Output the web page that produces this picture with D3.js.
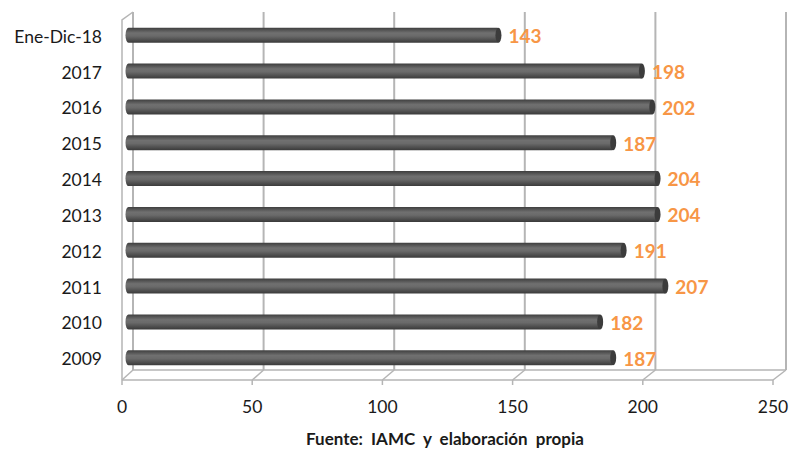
<!DOCTYPE html>
<html>
<head>
<meta charset="utf-8">
<script src="https://cdn.jsdelivr.net/npm/d3@7"></script>
<style>
  body { margin: 0; background: #fff; }
  svg text { font-family: Lato, "Open Sans", sans-serif; }
</style>
</head>
<body>
<div class="chart"></div>
<script>
const categories = ["Ene-Dic-18", "2017", "2016", "2015", "2014", "2013", "2012", "2011", "2010", "2009"]
const values = [143, 198, 202, 187, 204, 204, 191, 207, 182, 187]
const ticks = [0, 50, 100, 150, 200, 250]
const source = "Fuente: IAMC y elaboración propia"

let width = 792
let height = 450

// front plane (floor edge) and back wall, a bit shifted like excel 3d
let xFront = d3.scaleLinear().domain([0, 250]).range([122, 773])
let xBack = d3.scaleLinear().domain([0, 250]).range([133, 786])
let xBar = d3.scaleLinear().domain([0, 250]).range([127.5, 779.5])

let yFloorFront = 380
let yFloorBack = 370
let yTop = 12

let y = d3.scaleBand()
  .domain(categories)
  .range([17, 376])
  .paddingInner(0.58)
  .paddingOuter(0.3)

let svg = d3.select(".chart")
  .append("svg")
  .attr("width", width)
  .attr("height", height)

let grid = "#b5b5b5"

let defs = svg.append("defs")
let grad = defs.append("linearGradient")
  .attr("id", "cyl")
  .attr("x1", 0).attr("y1", 0).attr("x2", 0).attr("y2", 1)
grad.append("stop").attr("offset", "0%").attr("stop-color", "#3e3e3e")
grad.append("stop").attr("offset", "35%").attr("stop-color", "#707070")
grad.append("stop").attr("offset", "55%").attr("stop-color", "#6a6a6a")
grad.append("stop").attr("offset", "100%").attr("stop-color", "#3a3a3a")

// back wall gridlines
svg.selectAll(".gridBack")
  .data(ticks)
  .enter()
  .append("line")
  .attr("class", "gridBack")
  .attr("x1", d => xBack(d))
  .attr("x2", d => xBack(d))
  .attr("y1", yTop)
  .attr("y2", yFloorBack)
  .attr("stroke", grid)
  .attr("stroke-width", 2)

// floor
svg.append("line")
  .attr("x1", xBack(0)).attr("x2", xBack(250))
  .attr("y1", yFloorBack).attr("y2", yFloorBack)
  .attr("stroke", grid).attr("stroke-width", 1.5)
svg.append("line")
  .attr("x1", xFront(0)).attr("x2", xFront(250))
  .attr("y1", yFloorFront).attr("y2", yFloorFront)
  .attr("stroke", grid).attr("stroke-width", 1.5)
svg.selectAll(".floorDiag")
  .data(ticks)
  .enter()
  .append("line")
  .attr("x1", d => xFront(d))
  .attr("x2", d => xBack(d))
  .attr("y1", yFloorFront)
  .attr("y2", yFloorBack)
  .attr("stroke", grid).attr("stroke-width", 1.5)

// left wall
svg.append("path")
  .attr("d", `M${xFront(0)},${yFloorFront} L${xFront(0)},${yTop + 8} L${xBack(0)},${yTop}`)
  .attr("fill", "none")
  .attr("stroke", grid).attr("stroke-width", 1.5)

// tick marks on the front edge
svg.selectAll(".tickMark")
  .data(ticks)
  .enter()
  .append("line")
  .attr("x1", d => xFront(d)).attr("x2", d => xFront(d))
  .attr("y1", yFloorFront).attr("y2", yFloorFront + 5)
  .attr("stroke", grid).attr("stroke-width", 1.5)

// bars
let bh = y.bandwidth()
svg.selectAll(".bar")
  .data(values)
  .enter()
  .append("rect")
  .attr("class", "bar")
  .attr("x", xBar(0) - 2)
  .attr("y", (d, i) => y(categories[i]))
  .attr("width", d => xBar(d) - xBar(0) + 2)
  .attr("height", bh)
  .attr("rx", 3)
  .attr("ry", bh / 2)
  .attr("fill", "url(#cyl)")

// bar ends
svg.selectAll(".barEnd")
  .data(values)
  .enter()
  .append("ellipse")
  .attr("cx", d => xBar(d) - 2)
  .attr("cy", (d, i) => y(categories[i]) + bh / 2)
  .attr("rx", 3)
  .attr("ry", bh / 2)
  .attr("fill", "#3c3c3c")

// value labels
svg.selectAll(".valLabel")
  .data(values)
  .enter()
  .append("text")
  .attr("class", "valLabel")
  .attr("x", d => xBar(d) + 8)
  .attr("y", (d, i) => y(categories[i]) + bh / 2 + 3)
  .attr("dominant-baseline", "middle")
  .attr("fill", "#f79646")
  .attr("font-size", "19px")
  .attr("font-weight", "bold")
  .text(d => d)

// category labels
svg.selectAll(".catLabel")
  .data(categories)
  .enter()
  .append("text")
  .attr("x", 102)
  .attr("y", d => y(d) + bh / 2 + 3)
  .attr("dominant-baseline", "middle")
  .attr("text-anchor", "end")
  .attr("fill", "#1a1a1a")
  .attr("font-size", "17.5px")
  .text(d => d)

// x tick labels
svg.selectAll(".tickLabel")
  .data(ticks)
  .enter()
  .append("text")
  .attr("x", d => xFront(d))
  .attr("y", 413)
  .attr("text-anchor", "middle")
  .attr("fill", "#1a1a1a")
  .attr("font-size", "17.5px")
  .text(d => d)

svg.append("text")
  .attr("x", 445)
  .attr("y", 445)
  .attr("text-anchor", "middle")
  .attr("fill", "#1a1a1a")
  .attr("font-size", "17px")
  .attr("font-weight", "bold")
  .attr("word-spacing", "4px")
  .text(source)
</script>
</body>
</html>
